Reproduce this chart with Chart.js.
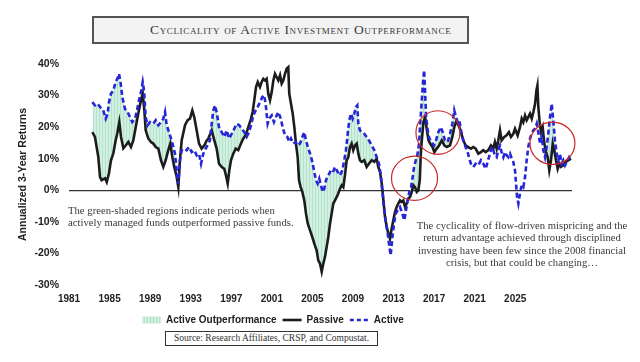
<!DOCTYPE html>
<html>
<head>
<meta charset="utf-8">
<script src="https://cdn.jsdelivr.net/npm/chart.js@4.4.1/dist/chart.umd.min.js"></script>
<style>
html,body{margin:0;padding:0;background:#fff;}
#wrap{position:relative;width:640px;height:362px;overflow:hidden;background:#fff;}
#c{position:absolute;left:0;top:0;}
.title{position:absolute;left:92px;top:16px;width:373px;height:24px;border:2px solid #555;background:#f3f3f3;
  font-family:'Liberation Serif','Times New Roman',serif;font-variant:small-caps;font-size:13.5px;letter-spacing:0.65px;color:#3a3a3a;
  line-height:24px;white-space:nowrap;}
.title span{position:absolute;left:56px;top:0;}
.note{position:absolute;font-family:'Liberation Serif','Times New Roman',serif;color:#3a3a3a;font-size:10.7px;white-space:nowrap;}
.src{position:absolute;left:165px;top:331px;width:211px;height:13px;border:1px solid #333;font-family:'Liberation Serif','Times New Roman',serif;
  font-size:9.5px;line-height:13px;color:#333;text-align:center;white-space:nowrap;background:#fff;}
</style>
</head>
<body>
<div id="wrap">
<canvas id="c" width="640" height="362"></canvas>
<div class="title"><span>Cyclicality of Active Investment Outperformance</span></div>
<div class="note" style="left:68px;top:205px;line-height:11.5px;">The green-shaded regions indicate periods when<br>actively managed funds outperformed passive funds.</div>
<div class="note" style="left:402px;top:219px;width:240px;text-align:center;line-height:12.4px;">The cyclicality of flow-driven mispricing and the<br>return advantage achieved through disciplined<br>investing have been few since the 2008 financial<br>crisis, but that could be changing…</div>
<div class="src">Source: Research Affiliates, CRSP, and Compustat.</div>
</div>
<script>
// ---- data (axis-year, annualized 3-year return %) ----
const xTickLabels = [1981,1985,1989,1993,1997,2001,2005,2009,2013,2017,2021,2025];
const yTickValues = [-30,-20,-10,0,10,20,30,40];
const seriesNames = ['Active Outperformance','Passive','Active'];

const passive = [[1983.30,18.4],[1983.56,16.9],[1983.89,10.5],[1984.06,4.2],[1984.22,3.2],[1984.55,3.8],[1984.72,2.6],[1984.94,5.4],[1985.14,9.5],[1985.37,11.7],[1985.60,15.8],[1985.76,18.0],[1985.96,21.6],[1986.13,16.9],[1986.36,13.3],[1986.59,14.2],[1986.85,15.3],[1987.11,13.7],[1987.34,15.8],[1987.58,20.0],[1987.83,24.3],[1988.10,28.5],[1988.27,30.6],[1988.43,25.3],[1988.56,19.0],[1988.82,16.4],[1989.08,15.3],[1989.31,14.8],[1989.55,13.7],[1989.81,13.2],[1990.07,9.5],[1990.30,7.4],[1990.53,9.5],[1990.79,12.7],[1990.99,14.8],[1991.19,10.5],[1991.38,7.4],[1991.62,4.2],[1991.78,1.0],[1991.94,9.5],[1992.11,15.8],[1992.44,20.6],[1992.70,22.2],[1992.93,22.7],[1993.16,25.3],[1993.35,23.2],[1993.59,19.0],[1993.82,14.8],[1994.08,13.2],[1994.34,14.2],[1994.58,15.8],[1994.74,16.4],[1995.07,19.0],[1995.33,15.8],[1995.56,13.2],[1995.79,8.4],[1996.06,7.4],[1996.31,6.8],[1996.48,4.7],[1996.65,2.1],[1996.81,6.3],[1996.97,9.5],[1997.20,11.6],[1997.44,13.2],[1997.69,12.7],[1997.96,14.8],[1998.19,16.4],[1998.42,17.4],[1998.68,20.0],[1998.95,22.7],[1999.11,24.8],[1999.27,28.5],[1999.44,32.7],[1999.61,34.3],[1999.83,32.7],[2000.00,34.3],[2000.16,35.3],[2000.33,34.8],[2000.49,35.3],[2000.65,30.6],[2000.82,28.5],[2000.99,31.1],[2001.15,34.8],[2001.31,36.9],[2001.48,35.8],[2001.64,34.8],[2001.81,36.4],[2001.97,33.8],[2002.13,34.8],[2002.30,36.9],[2002.46,38.5],[2002.62,39.0],[2002.72,30.6],[2002.89,27.4],[2003.06,24.3],[2003.22,20.0],[2003.38,14.8],[2003.55,10.5],[2003.68,3.2],[2003.84,1.0],[2004.01,-0.5],[2004.20,-3.2],[2004.37,-7.4],[2004.54,-10.5],[2004.77,-12.7],[2004.99,-14.8],[2005.19,-16.9],[2005.42,-19.0],[2005.58,-22.2],[2005.75,-23.2],[2005.92,-25.8],[2006.08,-23.2],[2006.24,-21.1],[2006.41,-17.9],[2006.57,-14.8],[2006.74,-10.5],[2006.90,-7.4],[2007.06,-4.2],[2007.23,-3.2],[2007.40,-2.1],[2007.55,-1.0],[2007.72,0.5],[2007.89,1.6],[2008.05,1.0],[2008.21,4.7],[2008.38,9.5],[2008.54,10.5],[2008.71,13.7],[2008.87,14.8],[2009.03,12.7],[2009.20,14.2],[2009.37,14.8],[2009.53,11.6],[2009.69,9.5],[2009.86,9.0],[2010.12,9.5],[2010.35,7.4],[2010.58,8.4],[2010.85,9.5],[2011.11,9.0],[2011.34,10.0],[2011.50,7.4],[2011.67,5.8],[2011.84,2.1],[2012.00,-3.2],[2012.16,-8.4],[2012.33,-11.6],[2012.49,-13.7],[2012.65,-15.3],[2012.82,-12.1],[2012.98,-9.5],[2013.15,-6.9],[2013.31,-5.3],[2013.47,-4.2],[2013.64,-3.2],[2013.81,-3.7],[2013.97,-3.2],[2014.14,-5.3],[2014.30,-4.2],[2014.46,-2.6],[2014.63,-2.1],[2014.80,-0.5],[2014.96,1.6],[2015.12,1.0],[2015.29,-0.5],[2015.45,0.0],[2015.59,3.2],[2015.69,11.6],[2015.79,15.8],[2015.95,21.6],[2016.12,23.2],[2016.29,19.0],[2016.45,15.8],[2016.61,14.8],[2016.84,13.7],[2017.03,12.1],[2017.26,13.2],[2017.49,14.2],[2017.76,15.8],[2018.01,14.2],[2018.25,13.7],[2018.57,14.2],[2018.80,16.9],[2018.99,20.0],[2019.16,21.6],[2019.33,21.1],[2019.49,20.0],[2019.65,18.4],[2019.88,15.8],[2020.11,14.2],[2020.37,13.7],[2020.64,13.2],[2020.87,13.7],[2021.10,13.2],[2021.36,11.6],[2021.62,12.1],[2021.85,12.7],[2022.09,12.1],[2022.34,12.7],[2022.61,14.2],[2022.84,13.2],[2023.00,15.3],[2023.17,13.2],[2023.33,15.8],[2023.50,19.0],[2023.66,15.8],[2023.92,16.9],[2024.15,17.4],[2024.38,18.4],[2024.58,16.9],[2024.81,17.9],[2024.98,19.5],[2025.24,17.4],[2025.47,20.0],[2025.64,22.7],[2025.80,21.6],[2025.97,23.7],[2026.13,22.2],[2026.29,23.2],[2026.46,24.3],[2026.63,22.7],[2026.79,24.8],[2026.96,27.4],[2027.09,31.6],[2027.19,33.2],[2027.28,26.4],[2027.42,21.1],[2027.55,18.4],[2027.71,20.0],[2027.87,14.8],[2028.04,12.1],[2028.20,10.5],[2028.36,6.3],[2028.53,9.5],[2028.70,14.8],[2028.85,12.7],[2029.02,9.5],[2029.19,6.8],[2029.35,8.4],[2029.51,7.4],[2029.74,7.9],[2029.98,9.0],[2030.23,9.5],[2030.50,10.0]];

const active = [[1983.30,27.9],[1983.56,26.9],[1983.83,27.4],[1984.06,26.4],[1984.38,25.3],[1984.62,22.7],[1984.81,24.3],[1984.94,27.9],[1985.14,30.6],[1985.37,31.6],[1985.60,34.3],[1985.76,35.3],[1985.93,36.9],[1986.10,33.8],[1986.26,29.5],[1986.52,25.8],[1986.79,24.8],[1987.01,23.2],[1987.24,21.6],[1987.51,22.7],[1987.70,25.3],[1987.90,28.5],[1988.10,31.1],[1988.27,34.3],[1988.40,31.6],[1988.56,23.2],[1988.76,20.6],[1988.99,21.6],[1989.31,21.1],[1989.55,22.2],[1989.81,20.6],[1990.07,21.6],[1990.30,22.7],[1990.47,24.8],[1990.63,20.6],[1990.86,18.4],[1991.06,16.4],[1991.25,14.2],[1991.45,11.6],[1991.62,6.3],[1991.78,2.1],[1991.94,9.5],[1992.11,12.7],[1992.37,13.2],[1992.60,12.7],[1992.83,13.7],[1993.10,12.1],[1993.35,12.7],[1993.59,11.1],[1993.82,11.6],[1994.02,8.4],[1994.24,11.6],[1994.48,13.2],[1994.74,14.8],[1994.90,15.8],[1995.07,21.1],[1995.23,25.3],[1995.40,26.9],[1995.59,24.3],[1995.79,20.0],[1996.06,18.4],[1996.31,16.9],[1996.55,19.0],[1996.78,16.4],[1997.04,17.9],[1997.30,19.5],[1997.53,21.1],[1997.79,20.6],[1998.03,19.5],[1998.29,18.4],[1998.52,16.9],[1998.75,18.4],[1998.95,20.6],[1999.17,23.7],[1999.41,25.3],[1999.61,26.4],[1999.83,27.9],[2000.06,29.5],[2000.26,30.1],[2000.42,26.4],[2000.59,21.1],[2000.75,22.7],[2000.99,23.7],[2001.21,21.6],[2001.41,23.2],[2001.64,24.8],[2001.88,22.7],[2002.07,20.0],[2002.30,17.4],[2002.53,16.9],[2002.72,15.3],[2002.89,16.4],[2003.12,14.8],[2003.35,15.3],[2003.55,14.2],[2003.78,14.8],[2004.01,16.9],[2004.20,18.4],[2004.37,15.8],[2004.60,13.2],[2004.83,11.1],[2004.99,9.0],[2005.16,6.3],[2005.35,3.2],[2005.52,2.1],[2005.68,3.7],[2005.85,1.6],[2006.01,-0.5],[2006.17,0.5],[2006.34,3.2],[2006.57,4.7],[2006.74,5.8],[2006.97,5.3],[2007.23,7.4],[2007.50,5.8],[2007.72,4.7],[2007.95,6.3],[2008.14,9.5],[2008.31,12.7],[2008.48,17.9],[2008.64,22.2],[2008.81,24.3],[2008.97,22.7],[2009.13,24.3],[2009.30,26.4],[2009.43,26.9],[2009.53,21.1],[2009.69,19.0],[2009.86,18.4],[2010.12,17.9],[2010.35,16.9],[2010.58,15.8],[2010.85,14.2],[2011.11,12.7],[2011.34,10.5],[2011.57,8.4],[2011.76,4.2],[2011.93,-1.0],[2012.09,-6.3],[2012.26,-10.5],[2012.43,-13.7],[2012.59,-17.9],[2012.72,-20.6],[2012.89,-14.8],[2013.05,-10.5],[2013.22,-7.4],[2013.42,-6.3],[2013.64,-5.3],[2013.87,-7.4],[2014.07,-9.5],[2014.23,-6.3],[2014.40,-3.2],[2014.56,-0.5],[2014.73,1.0],[2014.86,3.7],[2015.03,7.4],[2015.20,9.5],[2015.35,11.1],[2015.52,14.8],[2015.65,22.2],[2015.79,28.5],[2015.92,34.8],[2016.02,38.0],[2016.12,30.6],[2016.22,23.2],[2016.37,19.0],[2016.54,16.4],[2016.77,15.3],[2016.99,14.2],[2017.19,15.8],[2017.42,18.4],[2017.65,20.0],[2017.85,18.4],[2018.07,15.8],[2018.34,15.3],[2018.57,17.9],[2018.80,21.1],[2018.99,25.3],[2019.16,23.2],[2019.33,21.6],[2019.49,22.2],[2019.65,19.0],[2019.88,15.8],[2020.11,13.7],[2020.31,12.1],[2020.47,10.0],[2020.64,8.4],[2020.87,7.4],[2021.10,8.4],[2021.36,7.9],[2021.62,9.5],[2021.85,8.4],[2022.09,6.8],[2022.28,9.0],[2022.51,11.6],[2022.68,13.7],[2022.84,12.7],[2023.00,11.1],[2023.17,10.5],[2023.33,12.7],[2023.50,14.2],[2023.66,12.1],[2023.83,10.5],[2024.00,12.1],[2024.15,11.1],[2024.32,10.5],[2024.49,11.6],[2024.66,10.0],[2024.81,9.0],[2024.98,6.3],[2025.08,2.1],[2025.18,-2.1],[2025.31,-4.2],[2025.47,-1.0],[2025.64,1.6],[2025.80,1.0],[2025.97,4.2],[2026.13,9.5],[2026.29,13.7],[2026.46,16.4],[2026.63,17.9],[2026.79,19.0],[2026.96,19.5],[2027.12,21.1],[2027.28,18.4],[2027.45,14.8],[2027.62,16.9],[2027.77,12.7],[2027.94,10.5],[2028.10,13.7],[2028.26,17.9],[2028.43,23.2],[2028.60,27.4],[2028.75,22.2],[2028.92,15.8],[2029.09,11.6],[2029.25,9.5],[2029.41,11.6],[2029.58,8.4],[2029.74,9.5],[2029.91,7.9],[2030.08,9.0],[2030.31,10.5],[2030.50,9.5]];

// highlight rings (centre year, centre %, half-width in years, half-height in %)
const highlightCircles = [[2015.07,3.8,2.27,7.0],[2017.38,18.3,2.17,6.9],[2028.67,14.9,2.22,6.7]];

// ---- styling ----
const FONT = "'Liberation Sans', Arial, sans-serif";
const BLUE = '#2626d6';
const BLACK = '#1c1c1c';

const cv = document.getElementById('c');
const ctx = cv.getContext('2d');
function makePattern(){
  const p = document.createElement('canvas'); p.width = 3; p.height = 4;
  const g = p.getContext('2d');
  g.fillStyle = '#d2f0e2'; g.fillRect(0,0,3,4);
  g.fillStyle = '#b4e3cc'; g.fillRect(0,0,1,4);
  return ctx.createPattern(p,'repeat');
}
const hatch = makePattern();

const legendShift = {
  id:'legendShift',
  afterLayout(chart){ const lg = chart.legend; if (lg) { lg.left = 136; lg.top = 309; } }
};
const rings = {
  id:'rings',
  afterDatasetsDraw(chart){
    const {ctx, scales:{x, y}} = chart;
    ctx.save(); ctx.strokeStyle = '#c92a2a'; ctx.lineWidth = 1.2;
    highlightCircles.forEach(([cx0, cy0, rx0, ry0]) => {
      const cx = x.getPixelForValue(cx0), cy = y.getPixelForValue(cy0);
      const rx = Math.abs(x.getPixelForValue(cx0 + rx0) - cx);
      const ry = Math.abs(y.getPixelForValue(cy0 + ry0) - cy);
      ctx.beginPath(); ctx.ellipse(cx, cy, rx, ry, 0, 0, Math.PI*2); ctx.stroke();
    });
    ctx.restore();
  }
};

new Chart(ctx, {
  type:'line',
  data:{ datasets:[
    { label: seriesNames[2], data: active.map(p => ({x:p[0], y:p[1]})), borderColor: BLUE, borderWidth: 2.6,
      borderDash:[5,3], pointRadius:0, tension:0, order:0,
      fill:{ target:1, above: hatch, below:'rgba(0,0,0,0)' } },
    { label: seriesNames[1], data: passive.map(p => ({x:p[0], y:p[1]})), borderColor: BLACK, borderWidth: 2.6,
      pointRadius:0, tension:0, order:1, fill:false }
  ]},
  options:{
    responsive:false, animation:false, devicePixelRatio:1,
    layout:{ padding:{ left:0, right:68, top:64, bottom:27 } },
    scales:{
      x:{ type:'linear', min:1981, max:2030.6,
        afterBuildTicks: s => { s.ticks = xTickLabels.map(v => ({value:v})); },
        afterFit: s => { s.height = 24; },
        grid:{ display:false, drawTicks:false }, border:{ display:false },
        ticks:{ padding:8, autoSkip:false, maxRotation:0, color:'#222', font:{ family:FONT, size:10, weight:'bold' }, callback: v => String(v) } },
      y:{ min:-30, max:40,
        afterBuildTicks: s => { s.ticks = yTickValues.map(v => ({value:v})); },
        afterFit: s => { s.width = 69; },
        grid:{ drawTicks:false, lineWidth:1.2, color: c => (c.tick && c.tick.value === 0) ? '#333' : 'rgba(0,0,0,0)' },
        border:{ display:false },
        ticks:{ padding:10, autoSkip:false, color:'#222', font:{ family:FONT, size:10.5, weight:'bold' }, callback: v => v + '%' },
        title:{ display:true, text:'Annualized 3-Year Returns', color:'#222', font:{ family:FONT, size:10.5, weight:'bold' }, padding:{ top:17, bottom:0 } } }
    },
    plugins:{
      filler:{ drawTime:'beforeDatasetsDraw' },
      tooltip:{ enabled:false },
      legend:{ position:'bottom', align:'start',
        labels:{ usePointStyle:true, pointStyleWidth:19, boxWidth:19, boxHeight:7, padding:6, color:'#222',
          font:{ family:FONT, size:10, weight:'bold' },
          generateLabels: () => [
            { text: seriesNames[0], fillStyle: hatch, strokeStyle:'rgba(0,0,0,0)', lineWidth:0, pointStyle:'rect', hidden:false, datasetIndex:0, fontColor:'#222' },
            { text: seriesNames[1], fillStyle:'rgba(0,0,0,0)', strokeStyle: BLACK, lineWidth:2.6, pointStyle:'line', hidden:false, datasetIndex:1, fontColor:'#222' },
            { text: seriesNames[2], fillStyle:'rgba(0,0,0,0)', strokeStyle: BLUE, lineWidth:2.6, lineDash:[4,3], pointStyle:'line', hidden:false, datasetIndex:0, fontColor:'#222' }
          ] } }
    }
  },
  plugins:[legendShift, rings]
});
</script>
</body>
</html>
